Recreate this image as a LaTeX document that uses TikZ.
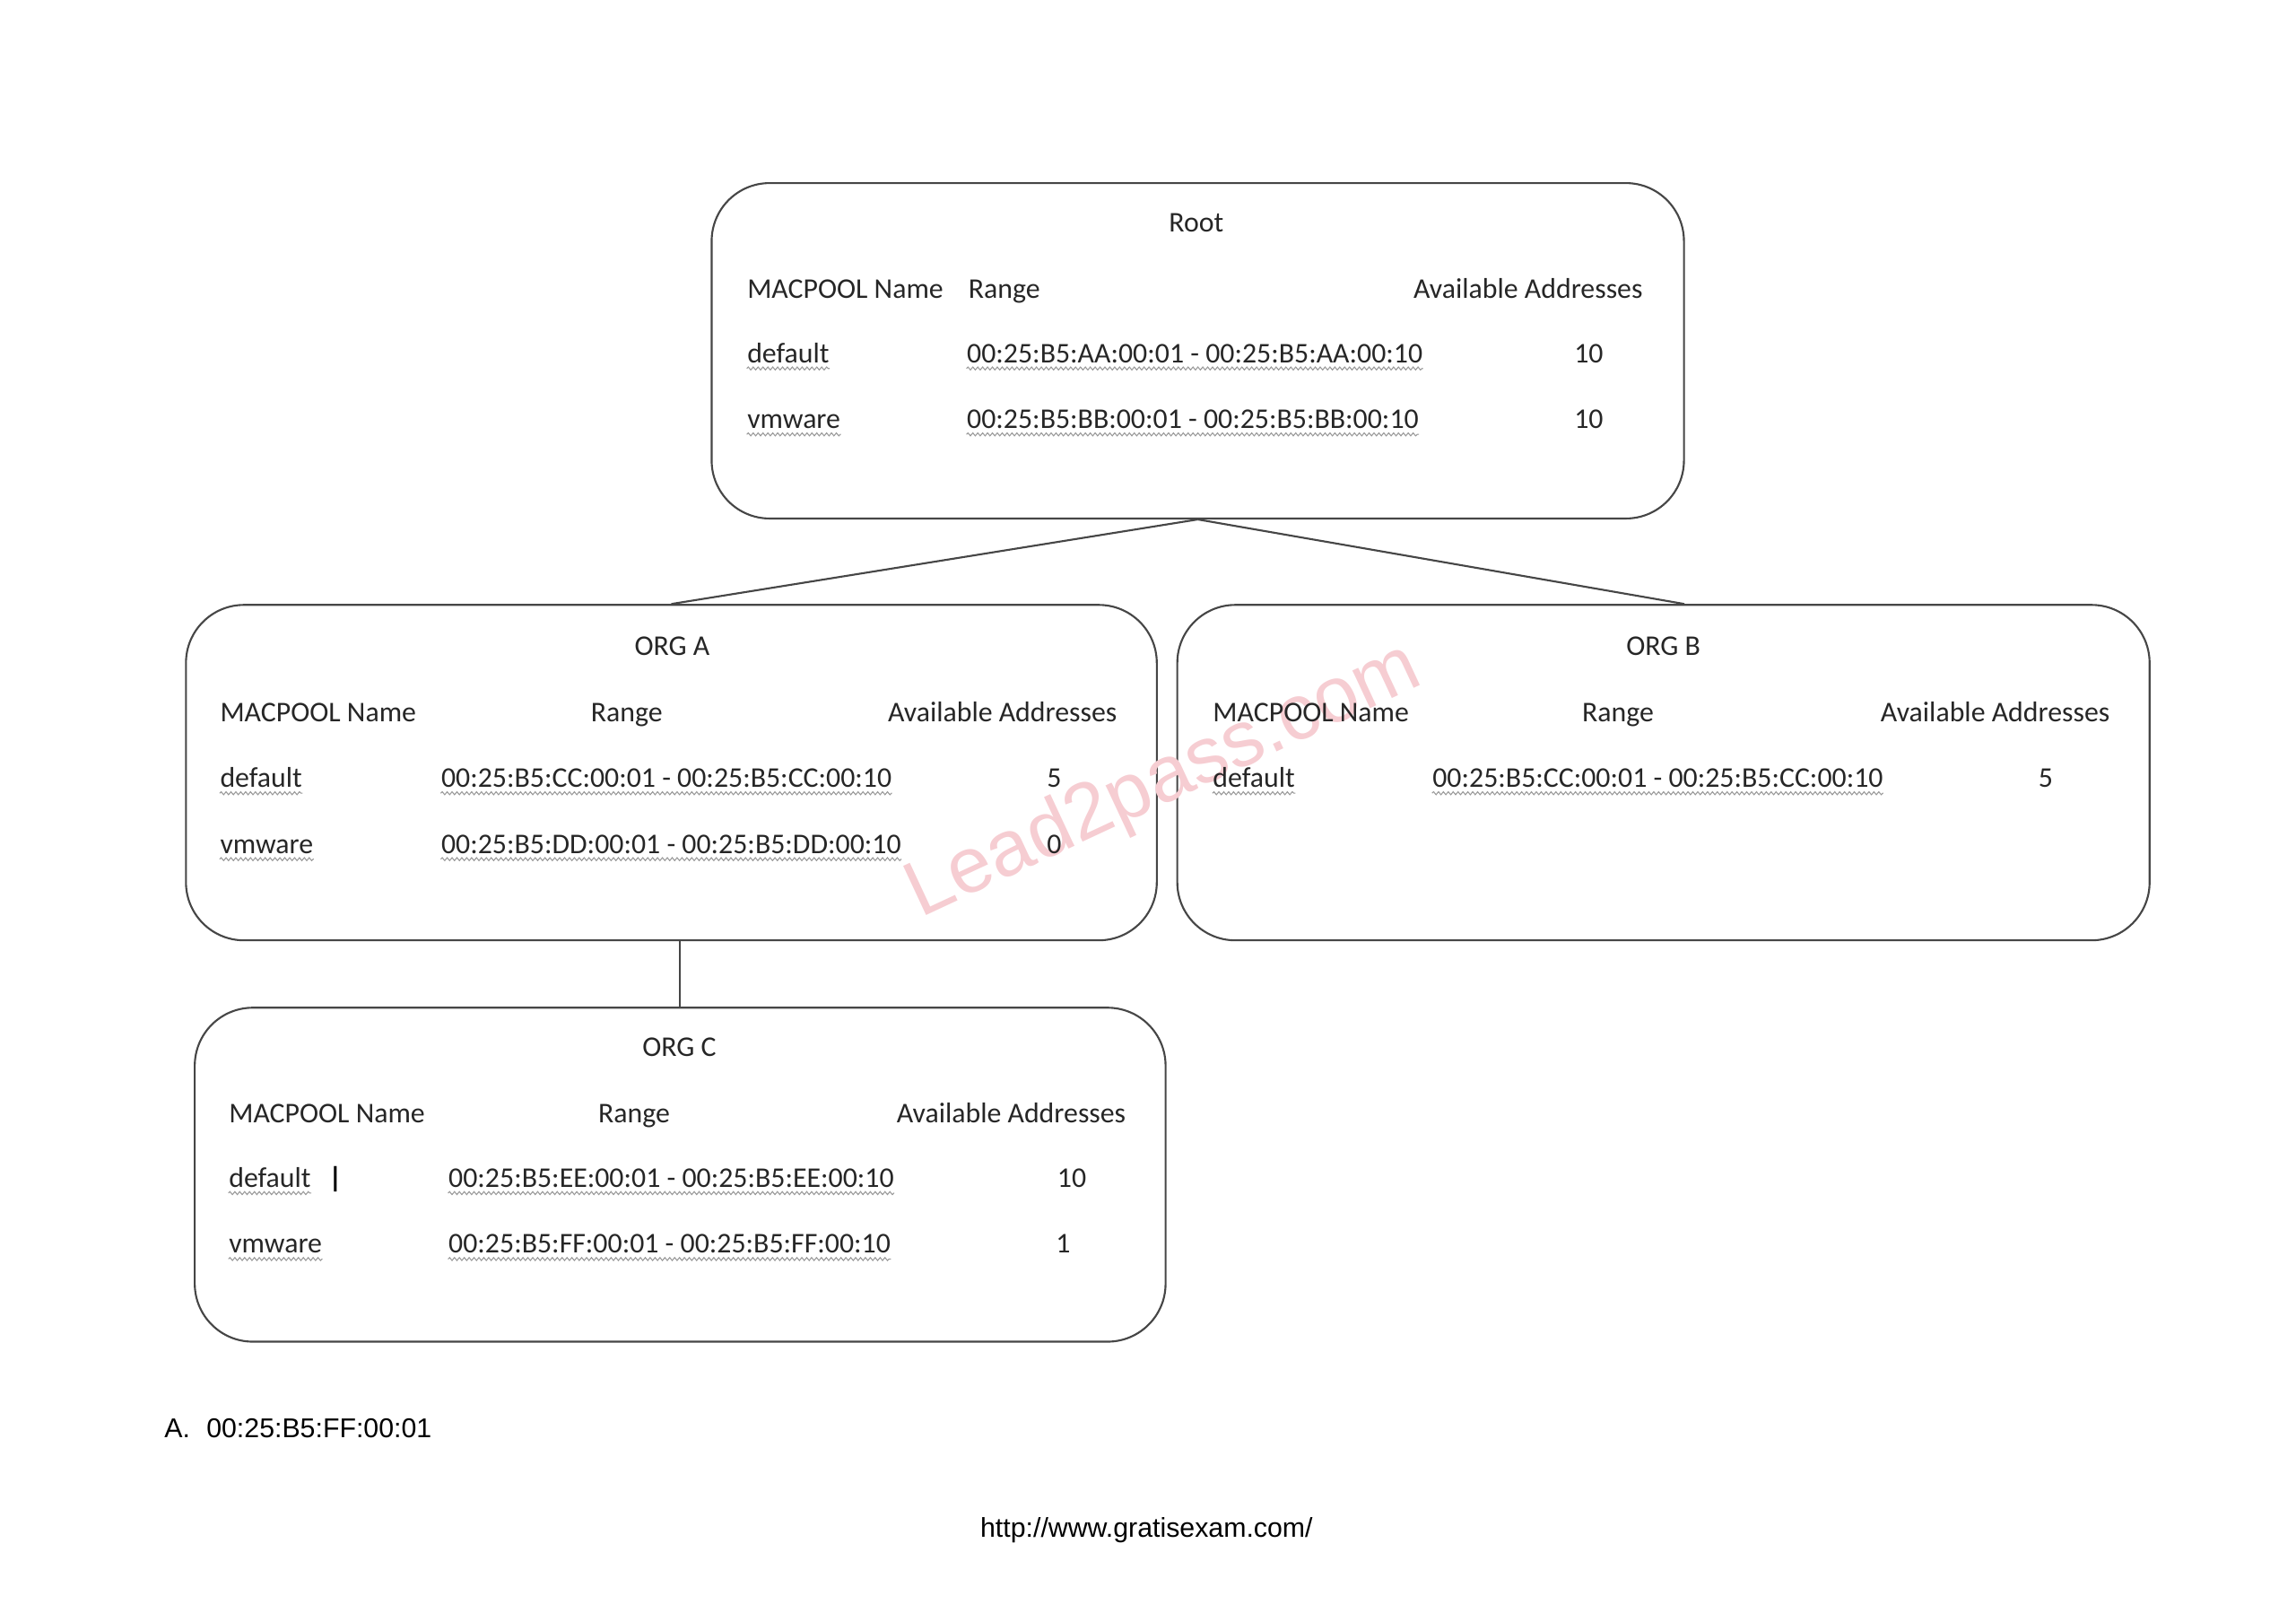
\documentclass[tikz,border=0pt]{standalone}
\usepackage{fontspec}
\setmainfont{Carlito}
\newfontfamily\arialfont{Liberation Sans}
\usepackage{xcolor}
\usetikzlibrary{calc}
\usetikzlibrary{positioning}
\usetikzlibrary{decorations.pathmorphing}

\definecolor{boxline}{RGB}{70,70,70}
\definecolor{markpink}{RGB}{246,205,210}

\tikzset{
	poolbox/.style={draw=boxline, line width=0.7pt, rounded corners=0.75cm, minimum width=663*\px, minimum height=229*\px, inner sep=0pt},
	cell/.style={inner sep=0pt, text=black!85, text height=8.5pt, text depth=1.5pt, font=\fontsize{10.5}{12}\selectfont},
	cellW/.style={cell, anchor=west},
	squiggle/.style={draw=gray!80, line width=0.35pt, decorate, decoration={snake, amplitude=0.55pt, segment length=1.8pt}},
	link/.style={draw=boxline, line width=0.7pt}
}
\newcommand{\px}{0.01894cm}

\begin{document}
\begin{tikzpicture}[x=0.01894cm, y=-0.01894cm] % page in reference pixels
		\useasboundingbox (0,0) rectangle (1568,1107);		% A4 landscape page
		
		% boxes
		\node[poolbox, minimum width=664*\px] (root) at (818,239.5) {};
		\node[poolbox] (orgA) at (458.5,527.5) {};
		\node[poolbox, minimum width=664*\px] (orgB) at (1136,527.5) {};
		\node[poolbox, minimum height=228*\px] (orgC) at (464.5,802) {};
		
		% tree links
		\draw[link] (root.south) -- (orgA.north);
		\draw[link] (root.south) -- ([xshift=0.27cm]orgB.north);
		\draw[link] (orgC.north) -- (orgC.north |- orgA.south);
		
		% watermark
		\node[inner sep=0pt, rotate=25, text=markpink, font=\arialfont\fontsize{29}{32}\selectfont] (mark) at (795,534) {Lead2pass.com};
		
		% root pools
		\node[cell] (rootTitle) at (817,152) {Root};
		\node[cellW] (rootHName) at (510,197) {MACPOOL Name};
		\node[cellW] (rootHRange) at (661,197) {Range};
		\node[cellW] (rootHAvail) at (965,197) {Available Addresses};
		\node[cellW] (rootDef) at (510,241) {default};
		\node[cellW] (rootDefR) at (660,241) {00:25:B5:AA:00:01 - 00:25:B5:AA:00:10};
		\node[cell] (rootDefN) at (1085,241) {10};
		\node[cellW] (rootVm) at (510,286) {vmware};
		\node[cellW] (rootVmR) at (660,286) {00:25:B5:BB:00:01 - 00:25:B5:BB:00:10};
		\node[cell] (rootVmN) at (1085,286) {10};
		
		% org A pools
		\node[cell] (aTitle) at (459,441) {ORG A};
		\node[cellW] (aHName) at (150,486) {MACPOOL Name};
		\node[cell] (aHRange) at (428,486) {Range};
		\node[cellW] (aHAvail) at (606,486) {Available Addresses};
		\node[cellW] (aDef) at (150,531) {default};
		\node[cellW] (aDefR) at (301,531) {00:25:B5:CC:00:01 - 00:25:B5:CC:00:10};
		\node[cell] (aDefN) at (720,531) {5};
		\node[cellW] (aVm) at (150,576) {vmware};
		\node[cellW] (aVmR) at (301,576) {00:25:B5:DD:00:01 - 00:25:B5:DD:00:10};
		\node[cell] (aVmN) at (720,576) {0};
		
		% org B pools
		\node[cell] (bTitle) at (1136,441) {ORG B};
		\node[cellW] (bHName) at (828,486) {MACPOOL Name};
		\node[cell] (bHRange) at (1105,486) {Range};
		\node[cellW] (bHAvail) at (1284,486) {Available Addresses};
		\node[cellW] (bDef) at (828,531) {default};
		\node[cellW] (bDefR) at (978,531) {00:25:B5:CC:00:01 - 00:25:B5:CC:00:10};
		\node[cell] (bDefN) at (1397,531) {5};
		
		% org C pools
		\node[cell] (cTitle) at (464,715) {ORG C};
		\node[cellW] (cHName) at (156,760) {MACPOOL Name};
		\node[cell] (cHRange) at (433,760) {Range};
		\node[cellW] (cHAvail) at (612,760) {Available Addresses};
		\node[cellW] (cDef) at (156,804) {default};
		\node[cell, text=black] (cCursor) at (229,804) {\textbf{|}};
		\node[cellW] (cDefR) at (306,804) {00:25:B5:EE:00:01 - 00:25:B5:EE:00:10};
		\node[cell] (cDefN) at (732,804) {10};
		\node[cellW] (cVm) at (156,849) {vmware};
		\node[cellW] (cVmR) at (306,849) {00:25:B5:FF:00:01 - 00:25:B5:FF:00:10};
		\node[cell] (cVmN) at (726,849) {1};
		
		% spell check marks
		\foreach \n in {rootDef,rootDefR,rootVm,rootVmR,aDef,aDefR,aVm,aVmR,bDef,bDefR,cDef,cDefR,cVm,cVmR}
			\draw[squiggle] ([yshift=-2.2pt]\n.base west) -- ([yshift=-2.2pt]\n.base east);
		
		% answer and footer
		\node[inner sep=0pt, anchor=west, font=\arialfont\fontsize{10}{12}\selectfont] (answer) at (112,975) {A.\hspace{6pt}00:25:B5:FF:00:01};
		\node[inner sep=0pt, font=\arialfont\fontsize{10}{12}\selectfont] (footer) at (783,1045) {http://www.gratisexam.com/};
\end{tikzpicture}
\end{document}
